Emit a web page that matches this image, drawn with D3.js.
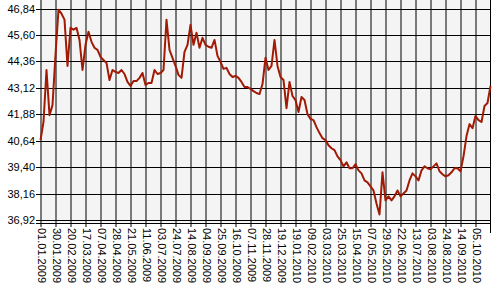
<!DOCTYPE html>
<html>
<head>
<meta charset="utf-8">
<script src="https://cdn.jsdelivr.net/npm/d3@7"></script>
<style>
  body { margin: 0; background: #fff; }
  text { font-family: "Liberation Sans", Arial, sans-serif; font-size: 11px; fill: #000; }
</style>
</head>
<body>
<script>
// tick labels (every 5th sample of the series)
var dateLabels = ['01.01.2009', '30.01.2009', '20.02.2009', '17.03.2009', '07.04.2009',
  '28.04.2009', '21.05.2009', '11.06.2009', '03.07.2009', '24.07.2009', '14.08.2009',
  '04.09.2009', '25.09.2009', '16.10.2009', '07.11.2009', '28.11.2009', '19.12.2009',
  '19.01.2010', '09.02.2010', '03.03.2010', '25.03.2010', '15.04.2010', '07.05.2010',
  '29.05.2010', '22.06.2010', '13.07.2010', '03.08.2010', '24.08.2010', '14.09.2010',
  '05.10.2010'];

var yTicks = [36.92, 38.16, 39.40, 40.64, 41.88, 43.12, 44.36, 45.60, 46.84];

// rate
var rates = [
  40.69, 41.54, 43.98, 41.86, 42.33, 44.69, 46.81, 46.62, 46.34, 44.17,
  45.96, 45.87, 45.96, 45.39, 43.98, 45.16, 45.77, 45.30, 45.02, 44.92,
  44.59, 44.45, 44.31, 43.51, 43.98, 43.89, 43.84, 43.98, 43.79, 43.42,
  43.23, 43.46, 43.46, 43.61, 43.84, 43.28, 43.37, 43.37, 43.98, 43.79,
  43.84, 43.98, 46.34, 44.92, 44.55, 44.17, 43.75, 43.61, 44.83, 45.16,
  46.10, 45.16, 45.73, 45.02, 45.49, 45.16, 45.07, 45.02, 45.39, 44.64,
  44.36, 44.03, 44.08, 43.79, 43.65, 43.70, 43.61, 43.42, 43.18, 43.18,
  43.09, 42.99, 42.90, 42.85, 43.32, 44.55, 43.98, 44.17, 45.39, 44.17,
  43.65, 43.51, 42.19, 43.42, 42.76, 42.57, 42.01, 42.71, 42.57, 41.91,
  41.68, 41.63, 41.30, 41.02, 40.78, 40.69, 40.45, 40.31, 40.22, 39.93,
  39.75, 39.46, 39.65, 39.37, 39.37, 39.56, 39.27, 39.13, 38.80, 38.71,
  38.52, 38.33, 37.72, 37.20, 39.18, 37.86, 38.05, 37.86, 38.05, 38.33,
  38.05, 38.19, 38.33, 38.80, 39.13, 38.99, 38.80, 39.27, 39.46, 39.37,
  39.32, 39.46, 39.60, 39.23, 39.09, 38.99, 39.04, 39.18, 39.37, 39.37,
  39.23, 39.93, 40.88, 41.44, 41.25, 41.82, 41.63, 41.54, 42.29, 42.43,
  43.23
];

var width = 500,
  height = 300,
  left = 40,
  right = 490,
  bottom = 223;

var svg = d3.select('body').append('svg')
  .attr('width', width)
  .attr('height', height);

var x = d3.scaleLinear()
  .domain([0, rates.length - 1])
  .range([left + 0.5, right + 0.5]);

var y = d3.scaleLinear()
  .domain([36.92, 46.84])
  .range([220.5, 9]);

function crisp(v) {
  return Math.floor(v) + 0.5;
}

// plot background
svg.append('rect')
  .attr('x', left)
  .attr('y', 0)
  .attr('width', right - left)
  .attr('height', bottom)
  .attr('fill', '#f4f4f4');

// horizontal grid + y labels
var yAxis = svg.append('g')
  .call(d3.axisLeft(y).tickValues(yTicks).tickSizeOuter(0)
    .tickFormat(function(d) { return d3.format('.2f')(d).replace('.', ','); }));
yAxis.select('.domain').remove();
yAxis.selectAll('.tick')
  .attr('transform', function(d) { return 'translate(0,' + crisp(y(d)) + ')'; });
yAxis.selectAll('.tick line')
  .attr('x1', left - 4)
  .attr('x2', right)
  .attr('stroke', '#000');
yAxis.selectAll('.tick text')
  .attr('x', left - 5)
  .attr('dy', '0.34em')
  .style('font-family', null)
  .style('font-size', null);
yAxis.attr('font-family', null).attr('font-size', null);

// vertical grid + date labels
var tickIdx = dateLabels.map(function(d, i) { return i * 5; });
var xAxis = svg.append('g')
  .call(d3.axisBottom(x).tickValues(tickIdx).tickSizeOuter(0)
    .tickFormat(function(d, i) { return dateLabels[i]; }));
xAxis.attr('font-family', null).attr('font-size', null);
xAxis.select('.domain').remove();
xAxis.selectAll('.tick line')
  .attr('y1', 0)
  .attr('y2', 227)
  .attr('stroke', '#000');
xAxis.selectAll('.tick text')
  .attr('y', null)
  .attr('dy', '0.3em')
  .attr('text-anchor', 'start')
  .attr('transform', 'translate(0,228) rotate(90)');

// frame lines
svg.append('line')
  .attr('x1', left - 4).attr('x2', right)
  .attr('y1', bottom + 0.5).attr('y2', bottom + 0.5)
  .attr('stroke', '#000');
svg.append('line')
  .attr('x1', right + 0.5).attr('x2', right + 0.5)
  .attr('y1', 0).attr('y2', 233)
  .attr('stroke', '#000');

var line = d3.line()
  .x(function(d, i) { return x(i); })
  .y(function(d) { return y(d); });

svg.append('path')
  .datum(rates)
  .attr('d', line)
  .attr('fill', 'none')
  .attr('stroke', '#a11a05')
  .attr('stroke-width', 2)
  .attr('stroke-linejoin', 'round');
</script>
</body>
</html>
